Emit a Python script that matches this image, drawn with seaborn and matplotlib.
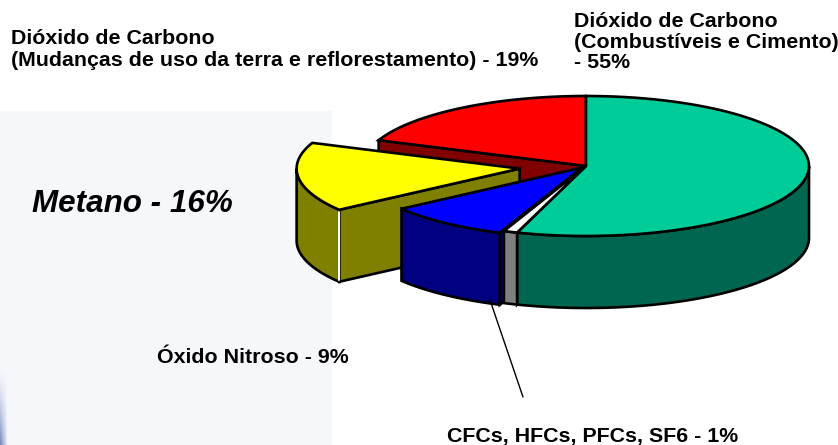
import numpy as np
import matplotlib.pyplot as plt
import seaborn as sns
from matplotlib.patches import Polygon, Rectangle

# slices, clockwise from 12 o'clock
labels = [
    "Dióxido de Carbono (Combustíveis e Cimento)",
    "CFCs, HFCs, PFCs, SF6",
    "Óxido Nitroso",
    "Metano",
    "Dióxido de Carbono (Mudanças de uso da terra e reflorestamento)",
]
shares = [55, 1, 9, 16, 19]
top_colors = ["#00CC99", "#FFFFFF", "#0000FF", "#FFFF00", "#FF0000"]
side_colors = ["#006650", "#808080", "#000080", "#808000", "#800000"]
explode = [0.0, 0.0, 0.03, 0.30, 0.0]

# pie geometry in pixel coordinates
CX, CY = 586, 166
RX, RY = 223, 70
DEPTH = 72

sns.set_theme(style="white")
plt.rcParams["font.family"] = ["Liberation Sans", "DejaVu Sans"]
plt.rcParams["text.color"] = "black"

fig = plt.figure(figsize=(8.38, 4.45), dpi=100)
ax = fig.add_axes([0, 0, 1, 1])
ax.set_xlim(0, 838)
ax.set_ylim(445, 0)
ax.axis("off")

# light slide panel + faint blue edge at the bottom left
ax.add_patch(Rectangle((0, 111), 332, 334, color="#F5F7FB", zorder=0, lw=0))
grad = np.zeros((80, 7, 4))
grad[..., 0], grad[..., 1], grad[..., 2] = 0.25, 0.35, 0.65
grad[..., 3] = 0.7 * np.linspace(0, 1, 80)[:, None] ** 1.5 * np.linspace(1, 0, 7)[None, :]
ax.imshow(grad, extent=(0, 7, 445, 365), aspect="auto", zorder=0.5)


def rim(theta, off, r=1.0, bottom=False):
    t = np.radians(theta)
    x = CX + off[0] + RX * r * np.sin(t)
    y = CY + off[1] - RY * r * np.cos(t) + (DEPTH if bottom else 0)
    return np.column_stack([np.atleast_1d(x), np.atleast_1d(y)])


edges = np.concatenate([[0], np.cumsum(shares) / sum(shares) * 360])
radial, sides, tops, glints = [], [], [], []
for i in range(len(shares)):
    t1, t2 = edges[i], edges[i + 1]
    mid = np.radians((t1 + t2) / 2)
    off = (explode[i] * RX * np.sin(mid), -explode[i] * RY * np.cos(mid))
    depth_key = CY + off[1] - RY * np.cos(mid)
    apex = rim(0, off, r=0)
    apex_b = rim(0, off, r=0, bottom=True)

    arc = np.linspace(t1, t2, 80)
    tops.append((depth_key, np.vstack([apex, rim(arc, off)]), top_colors[i]))

    lo, hi = max(t1, 90), min(t2, 270)
    if hi > lo:
        a = np.linspace(lo, hi, 80)
        poly = np.vstack([rim(a, off), rim(a[::-1], off, bottom=True)])
        sides.append((depth_key, poly, side_colors[i]))

    for t, visible in ((t1, np.sin(np.radians(t1)) < -1e-9),
                       (t2, np.sin(np.radians(t2)) > 1e-9)):
        if visible:
            poly = np.vstack([apex, rim(t, off), rim(t, off, bottom=True), apex_b])
            radial.append((depth_key, poly, side_colors[i]))
            if explode[i] > 0.1:
                glints.append(np.vstack([rim(t, off), rim(t, off, bottom=True)]))

z = 2
for layer in (radial, sides, tops):
    for _, poly, col in sorted(layer, key=lambda d: d[0]):
        ax.add_patch(Polygon(poly, closed=True, facecolor=col, edgecolor="black",
                             lw=1.9, joinstyle="miter", zorder=z))
        z += 0.01
    z += 1
for g in glints:
    ax.plot(g[:, 0], g[:, 1] - [-2, 2], color="white", lw=1.5, zorder=3.5)

fs = 15.4
ax.text(11, 44, "Dióxido de Carbono", fontsize=fs, fontweight="bold", va="baseline")
ax.text(11, 65.5, "(Mudanças de uso da terra e reflorestamento) - 19%",
        fontsize=fs, fontweight="bold", va="baseline")
ax.text(574, 27, "Dióxido de Carbono", fontsize=fs, fontweight="bold", va="baseline")
ax.text(574, 48, "(Combustíveis e Cimento)", fontsize=fs, fontweight="bold", va="baseline")
ax.text(574, 68.5, "- 55%", fontsize=fs, fontweight="bold", va="baseline")
ax.text(32, 212.5, "Metano - 16%", fontsize=22.6, fontweight="bold", style="italic",
        va="baseline")
ax.text(157, 363, "Óxido Nitroso - 9%", fontsize=fs, fontweight="bold", va="baseline")
ax.text(447, 442, "CFCs, HFCs, PFCs, SF6 - 1%", fontsize=fs, fontweight="bold",
        va="baseline")
ax.plot([490, 523], [300, 397], color="black", lw=1.0, zorder=10)

fig.savefig("out.png", dpi=100)
